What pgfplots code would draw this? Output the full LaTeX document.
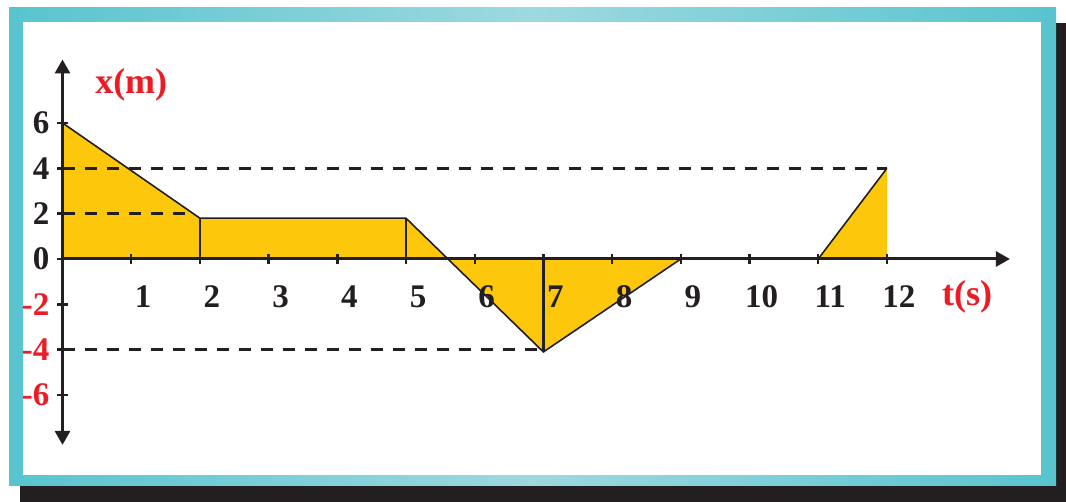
\documentclass[border=0pt]{standalone}
\usepackage{pgfplots}
\pgfplotsset{compat=1.18}
\usepackage{fontspec}
\setmainfont{Liberation Serif}
\usetikzlibrary{arrows.meta}
\definecolor{ink}{HTML}{231F20}
\definecolor{fillY}{HTML}{FDC70C}
\definecolor{lblred}{HTML}{ED1C24}
\definecolor{tealA}{HTML}{58C4CF}
\definecolor{tealB}{HTML}{9DD9DF}
\begin{document}
\begin{tikzpicture}[x=1pt,y=1pt]
\useasboundingbox (0,0) rectangle (533,251);
\fill[ink] (10,0) rectangle (533,239.5);
\shade[left color=tealA, right color=tealA, middle color=tealB] (4.5,8) rectangle (528,247);
\fill[white] (11.5,13.5) rectangle (520.5,240);
\begin{axis}[
  anchor=origin, at={(31.25pt,121.5pt)},
  x=34.35pt, y=11.335pt,
  xmin=-0.02, xmax=13.79, ymin=-8.2, ymax=8.8,
  axis lines=middle,
  axis on top,
  axis line style={ink, line width=1.5pt},
  x axis line style={-{Triangle[length=7pt,width=7.5pt]}},
  y axis line style={{Triangle[length=7pt,width=7.5pt]}-{Triangle[length=7pt,width=7.5pt]}},
  xtick={1,2,3,4,5,6,7,8,9,10,11,12},
  xticklabels={1,2,3,4,5,6,7,8,9,10,11,12},
  ytick={-6,-4,-2,0,2,4,6},
  yticklabels={\textcolor{lblred}{-6},\textcolor{lblred}{-4},\textcolor{lblred}{-2},0,2,4,6},
  hide obscured x ticks=false, hide obscured y ticks=false,
  tick style={ink, line width=1.2pt},
  major tick length=5pt, tick align=center,
  tick label style={font=\fontsize{16.5}{19}\selectfont\bfseries, text=ink},
  xticklabel style={anchor=center, xshift=6pt, yshift=-16.5pt},
  yticklabel style={anchor=east, xshift=-0.5pt},
  xlabel={t(s)}, ylabel={x(m)},
  label style={font=\fontsize{18}{21}\selectfont\bfseries, text=lblred},
  xlabel style={at={(rel axis cs:0.955,0.384)}, anchor=center},
  ylabel style={at={(rel axis cs:0.0739,0.935)}, anchor=center, rotate=0},
  clip=false,
]
\addplot[fill=fillY, draw=none] coordinates {(0,0)(0,6)(2,1.8)(5,1.8)(7,-4.1)(9,0)(11,0)(12,4)(12,0)} \closedcycle;
\addplot[ink, line width=1.5pt, dash pattern=on 6pt off 5pt] coordinates {(0,4)(12,4)};
\addplot[ink, line width=1.5pt, dash pattern=on 6pt off 5pt] coordinates {(0,2)(1.9,2)};
\addplot[ink, line width=1.5pt, dash pattern=on 6pt off 5pt] coordinates {(0,-4)(6.95,-4)};
\addplot[ink, line width=0.8pt] coordinates {(0,6)(2,1.8)(5,1.8)(7,-4.1)(9,0)};
\addplot[ink, line width=0.8pt] coordinates {(11,0)(12,4)};
\addplot[ink, line width=1.1pt] coordinates {(2,0)(2,1.8)};
\addplot[ink, line width=1.1pt] coordinates {(5,0)(5,1.8)};
\addplot[ink, line width=1.1pt] coordinates {(7,0)(7,-4.1)};
\end{axis}
\end{tikzpicture}
\end{document}
